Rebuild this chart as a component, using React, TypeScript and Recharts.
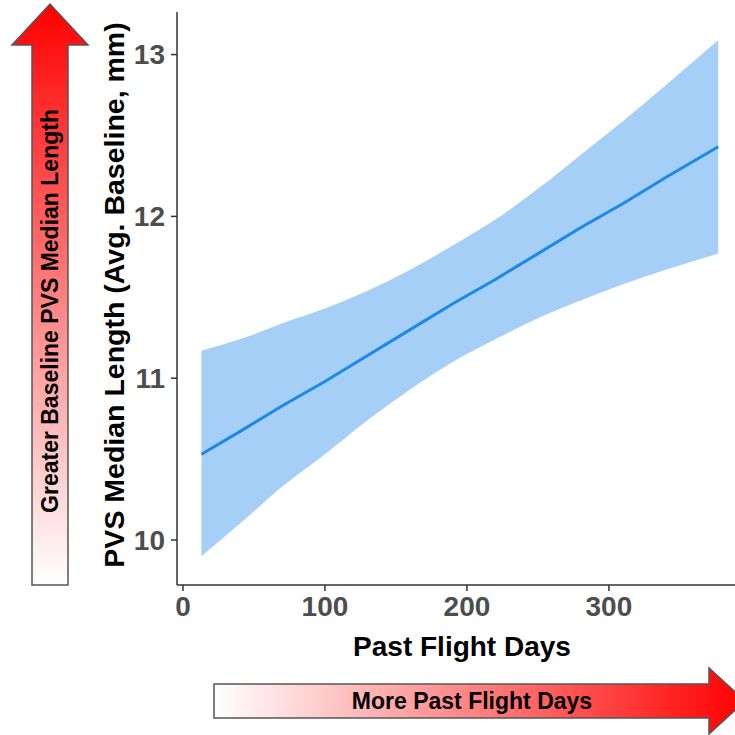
import { ComposedChart, Area, Line, XAxis, YAxis } from "recharts";

// fitted regression line with 95% band
const days = [13, 40, 70, 100, 130, 160, 190, 220, 250, 280, 310, 340, 377];
const fitted = [10.53, 10.67, 10.83, 10.98, 11.14, 11.3, 11.46, 11.61, 11.77, 11.93, 12.08, 12.24, 12.43];
const upper = [11.17, 11.24, 11.34, 11.43, 11.54, 11.67, 11.82, 11.98, 12.17, 12.38, 12.59, 12.81, 13.09];
const lower = [9.9, 10.1, 10.33, 10.53, 10.74, 10.93, 11.1, 11.24, 11.37, 11.48, 11.58, 11.67, 11.77];

const xTicks = [0, 100, 200, 300];
const yTicks = [10, 11, 12, 13];

const data = days.map((d, i) => ({
  day: d,
  fit: fitted[i],
  band: [lower[i], upper[i]],
}));

const font = "'Liberation Sans', Arial, sans-serif";
const tickStyle = { fill: "#4d4d4d", fontSize: 28, fontWeight: 700, fontFamily: font };

export default function App() {
  return (
    <div style={{ position: "absolute", left: 0, top: 0, width: 735, height: 735, background: "#fff", overflow: "hidden" }}>
      <ComposedChart
        width={735}
        height={735}
        data={data}
        margin={{ top: 12, right: 0, bottom: 120, left: 0 }}
      >
        <XAxis
          type="number"
          dataKey="day"
          domain={[-4.2, 388.8]}
          ticks={xTicks}
          allowDataOverflow
          height={30}
          tickSize={6}
          tickMargin={5}
          axisLine={{ stroke: "#333", strokeWidth: 1.5 }}
          tickLine={{ stroke: "#333", strokeWidth: 1.5 }}
          tick={tickStyle}
        />
        <YAxis
          type="number"
          domain={[9.722, 13.263]}
          ticks={yTicks}
          allowDataOverflow
          width={177}
          tickSize={6}
          tickMargin={6}
          axisLine={{ stroke: "#333", strokeWidth: 1.5 }}
          tickLine={{ stroke: "#333", strokeWidth: 1.5 }}
          tick={tickStyle}
        />
        <Area
          type="monotone"
          dataKey="band"
          stroke="none"
          fill="#a6cff8"
          fillOpacity={1}
          isAnimationActive={false}
        />
        <Line
          type="linear"
          dataKey="fit"
          stroke="#1e88e5"
          strokeWidth={3}
          dot={false}
          isAnimationActive={false}
        />
      </ComposedChart>
      <svg
        width={735}
        height={735}
        style={{ position: "absolute", left: 0, top: 0, pointerEvents: "none" }}
      >
        <defs>
          <linearGradient id="upGrad" x1="0" y1="1" x2="0" y2="0">
            <stop offset="0%" stopColor="#ffffff" />
            <stop offset="100%" stopColor="#ff0000" />
          </linearGradient>
          <linearGradient id="rightGrad" x1="0" y1="0" x2="1" y2="0">
            <stop offset="0%" stopColor="#ffffff" />
            <stop offset="100%" stopColor="#ff0000" />
          </linearGradient>
        </defs>
        <polygon
          points="32,585 68,585 68,45 88,45 50,4 12,45 32,45"
          fill="url(#upGrad)"
          stroke="#555"
          strokeWidth={1.5}
        />
        <text
          x={58}
          y={311}
          transform="rotate(-90 58 311)"
          textAnchor="middle"
          fontFamily={font}
          fontWeight={700}
          fontSize={23}
          fill="#000"
        >
          Greater Baseline PVS Median Length
        </text>
        <polygon
          points="214,684 709,684 709,668 745,701 709,734 709,718 214,718"
          fill="url(#rightGrad)"
          stroke="#555"
          strokeWidth={1.5}
        />
        <text
          x={472}
          y={709}
          textAnchor="middle"
          fontFamily={font}
          fontWeight={700}
          fontSize={23}
          fill="#000"
        >
          More Past Flight Days
        </text>
        <text
          x={462}
          y={656}
          textAnchor="middle"
          fontFamily={font}
          fontWeight={700}
          fontSize={28}
          fill="#000"
        >
          Past Flight Days
        </text>
        <text
          x={124}
          y={295}
          transform="rotate(-90 124 295)"
          textAnchor="middle"
          fontFamily={font}
          fontWeight={700}
          fontSize={28.5}
          fill="#000"
        >
          PVS Median Length (Avg. Baseline, mm)
        </text>
      </svg>
    </div>
  );
}
